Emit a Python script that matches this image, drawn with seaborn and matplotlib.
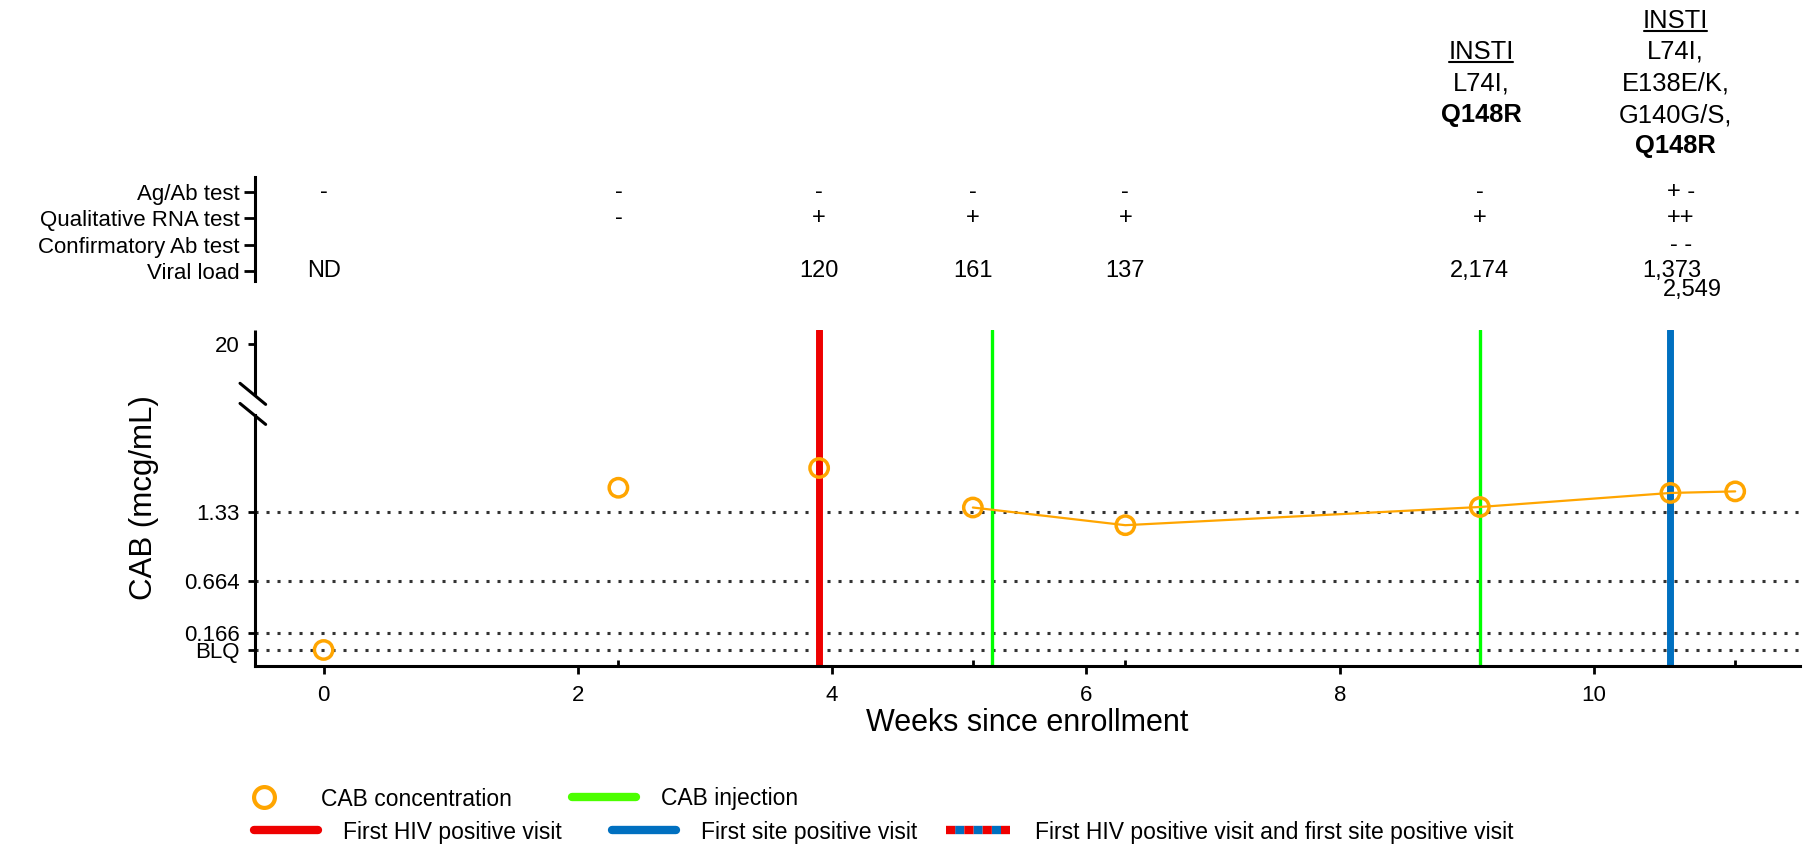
import numpy as np
import pandas as pd
import matplotlib.pyplot as plt
import matplotlib.transforms as mtransforms
from matplotlib.lines import Line2D
from matplotlib.ticker import NullLocator
import seaborn as sns

sns.set_style("ticks")
plt.rcParams['font.family'] = ['Liberation Sans', 'DejaVu Sans']
plt.rcParams.update({'text.color': 'black', 'axes.labelcolor': 'black',
                     'xtick.color': 'black', 'ytick.color': 'black',
                     'axes.edgecolor': 'black'})

# CAB concentration samples (BLQ drawn at 0)
sample_weeks = [0, 2.32, 3.90, 5.11, 6.31, 9.10, 10.60, 11.11]
cab_conc = [0, 1.56, 1.75, 1.37, 1.20, 1.375, 1.51, 1.525]
connected = [False, False, False, True, True, True, True, True]

hiv_pos_weeks = [3.90]
injection_weeks = [5.26, 9.10]
site_pos_weeks = [10.60]

ref_levels = [0, 0.166, 0.664, 1.33]
y_ticks = [0, 0.166, 0.664, 1.33, 20]
y_tick_labels = ["BLQ", "0.166", "0.664", "1.33", "20"]
x_ticks = [0, 2, 4, 6, 8, 10]

# test results table
row_labels = ["Ag/Ab test", "Qualitative RNA test", "Confirmatory Ab test", "Viral load"]
table_weeks = [0, 2.32, 3.90, 5.11, 6.31, 9.10, 10.68]
ag_ab = ["-", "-", "-", "-", "-", "-", "+ -"]
rna = ["", "-", "+", "+", "+", "+", "++"]
confirm = ["", "", "", "", "", "", "- -"]
viral_load = ["ND", "", "120", "161", "137", "2,174", ""]
late_vl_weeks = [10.61, 10.77]
late_vl = ["1,373", "2,549"]
late_vl_rows = [3, 3.72]

# resistance mutations
resist_weeks = [9.11, 10.64]
resist_mutations = [["L74I,"], ["L74I,", "E138E/K,", "G140G/S,"]]
key_mutation = "Q148R"

ORANGE = '#FFA500'
RED = '#EE0000'
GREEN = '#00FF00'
LEG_GREEN = '#4CFF00'
BLUE = '#0070C0'

# broken y axis: linear up to the break, compressed above
BREAK = 2.34
K = 0.0341


def fwd(v):
    v = np.asarray(v, dtype=float)
    return np.where(v <= BREAK, v, BREAK + (v - BREAK) * K)


def inv(p):
    p = np.asarray(p, dtype=float)
    return np.where(p <= BREAK, p, BREAK + (p - BREAK) / K)


W, H = 1812, 848
fig = plt.figure(figsize=(W / 100, H / 100), dpi=100)


def box(x0, y0, x1, y1):
    return [x0 / W, 1 - y1 / H, (x1 - x0) / W, (y1 - y0) / H]


ax = fig.add_axes(box(255, 330, 1800, 666))
ax_tab = fig.add_axes(box(255, 177, 1800, 281), sharex=ax)

# ---- main panel ----
ax.set_yscale('function', functions=(fwd, inv))
ax.set_xlim(-0.54, 11.62)
ax.set_ylim(-0.154, 23.95)

for lv in ref_levels:
    ax.axhline(lv, color='#333333', lw=2.2, ls=(0, (1, 2.6)), zorder=1)
for w in hiv_pos_weeks:
    ax.axvline(w, color=RED, lw=5, zorder=2)
for w in injection_weeks:
    ax.axvline(w, color=GREEN, lw=2.4, zorder=2)
for w in site_pos_weeks:
    ax.axvline(w, color=BLUE, lw=5, zorder=2)

df = pd.DataFrame({'week': sample_weeks, 'cab': cab_conc, 'connected': connected})
sns.lineplot(data=df[df['connected']], x='week', y='cab', color=ORANGE, lw=1.6,
             ax=ax, zorder=3, legend=False)
sns.scatterplot(data=df, x='week', y='cab', s=175, color=ORANGE, linewidth=2.5,
                ax=ax, zorder=4, legend=False)
pts = ax.collections[-1]
pts.set_facecolor('none')
pts.set_edgecolor(ORANGE)

ax.set_xticks(x_ticks)
ax.set_xticks(sample_weeks, minor=True)
ax.set_yticks(y_ticks, y_tick_labels)
ax.yaxis.set_minor_locator(NullLocator())
ax.tick_params(axis='x', which='major', direction='out', length=6, width=2,
               labelsize=16, pad=8)
ax.tick_params(axis='x', which='minor', direction='in', length=4.5, width=2)
ax.tick_params(axis='y', length=5, width=2, labelsize=16, pad=6)
ax.set_xlabel("Weeks since enrollment", fontsize=22, labelpad=1)
ax.set_ylabel("CAB (mcg/mL)", fontsize=22.5, labelpad=18)

for side in ['top', 'right', 'left']:
    ax.spines[side].set_visible(False)
ax.spines['bottom'].set_linewidth(2.2)

# left spine with a gap and break marks
seg = dict(transform=ax.transAxes, color='black', lw=2.2, clip_on=False)
ax.plot([0, 0], [0, 0.747], solid_capstyle='projecting', **seg)
ax.plot([0, 0], [0.8065, 1], solid_capstyle='butt', **seg)
ax.plot([-0.0097, 0.0069], [0.8414, 0.7786], **seg)
ax.plot([-0.0097, 0.0069], [0.7815, 0.7190], **seg)

# ---- table panel ----
ax_tab.set_ylim(3.38, -0.57)
ax_tab.set_yticks(range(len(row_labels)), row_labels)
ax_tab.tick_params(axis='y', length=8, width=2, labelsize=16, pad=3)
ax_tab.tick_params(axis='x', which='both', bottom=False, labelbottom=False)
for side in ['top', 'right', 'bottom']:
    ax_tab.spines[side].set_visible(False)
ax_tab.spines['left'].set_linewidth(2.2)
ax_tab.set_facecolor('none')

for r, vals in enumerate([ag_ab, rna, confirm, viral_load]):
    for w, s in zip(table_weeks, vals):
        if s:
            ax_tab.text(w, r, s, ha='center', va='center', fontsize=17)
for w, s, r in zip(late_vl_weeks, late_vl, late_vl_rows):
    ax_tab.text(w, r, s, ha='center', va='center', fontsize=17)

trans = mtransforms.blended_transform_factory(ax_tab.transData, fig.transFigure)
headers = []
for w, muts in zip(resist_weeks, resist_mutations):
    lines = ["INSTI"] + muts + [key_mutation]
    start = (5 - len(lines)) / 2
    for j, s in enumerate(lines):
        t = ax_tab.text(w, 1 - (20.5 + 31.5 * (start + j)) / H, s, transform=trans,
                        ha='center', va='center', fontsize=18.4,
                        fontweight='bold' if s == key_mutation else 'normal')
        if j == 0:
            headers.append(t)

# ---- legend ----
h_conc = Line2D([], [], marker='o', ls='none', markersize=15, markerfacecolor='none',
                markeredgecolor=ORANGE, markeredgewidth=3)
h_inj = Line2D([], [], color=LEG_GREEN, lw=6)
h_hiv = Line2D([], [], color=RED, lw=6)
h_site = Line2D([], [], color=BLUE, lw=6)
h_both = Line2D([], [], color=RED, lw=6, ls=(0, (1.1, 1.1)), gapcolor=BLUE)
entries = [(h_conc, "CAB concentration", 232, 799),
           (h_inj, "CAB injection", 572, 799),
           (h_hiv, "First HIV positive visit", 254, 832),
           (h_site, "First site positive visit", 612, 832),
           (h_both, "First HIV positive visit and first site positive visit", 946, 832)]
for h, lab, x, y in entries:
    fig.legend([h], [lab], loc='center left', bbox_to_anchor=(x / W, 1 - y / H),
               frameon=False, fontsize=16.5, handlelength=2.8, handletextpad=1.1,
               borderpad=0, borderaxespad=0)

# underline the INSTI headers
fig.canvas.draw()
renderer = fig.canvas.get_renderer()
for t in headers:
    bb = t.get_window_extent(renderer)
    fig.add_artist(Line2D([bb.x0 + 1, bb.x1 - 1], [bb.y0 + 2, bb.y0 + 2], color='black',
                          lw=1.5, transform=mtransforms.IdentityTransform()))

fig.savefig('out.png', dpi=100)
